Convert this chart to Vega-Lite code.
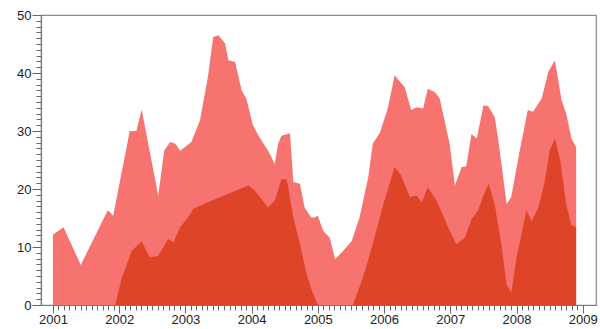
{
  "$schema": "https://vega.github.io/schema/vega-lite/v6.json",
  "width": 555,
  "height": 290,
  "autosize": {"type": "none"},
  "padding": {"left": 41, "top": 15, "right": 4, "bottom": 24},
  "background": "white",
  "config": {
    "view": {"stroke": "#8a8a8a", "strokeWidth": 1.2},
    "axis": {
      "labelFont": "Liberation Sans",
      "labelFontSize": 13,
      "labelColor": "#222222",
      "domainColor": "#777777",
      "domainWidth": 1.2,
      "tickColor": "#666666",
      "grid": false,
      "title": null
    }
  },
  "data": {
    "values": [
      {"year": 2001.00, "value": 12.1, "series": "light"},
      {"year": 2001.16, "value": 13.4, "series": "light"},
      {"year": 2001.42, "value": 6.9, "series": "light"},
      {"year": 2001.83, "value": 16.4, "series": "light"},
      {"year": 2001.91, "value": 15.4, "series": "light"},
      {"year": 2002.16, "value": 30.0, "series": "light"},
      {"year": 2002.26, "value": 30.0, "series": "light"},
      {"year": 2002.34, "value": 33.7, "series": "light"},
      {"year": 2002.59, "value": 18.9, "series": "light"},
      {"year": 2002.68, "value": 26.6, "series": "light"},
      {"year": 2002.77, "value": 28.1, "series": "light"},
      {"year": 2002.85, "value": 27.8, "series": "light"},
      {"year": 2002.92, "value": 26.6, "series": "light"},
      {"year": 2003.09, "value": 28.1, "series": "light"},
      {"year": 2003.22, "value": 31.8, "series": "light"},
      {"year": 2003.34, "value": 39.3, "series": "light"},
      {"year": 2003.42, "value": 46.2, "series": "light"},
      {"year": 2003.50, "value": 46.5, "series": "light"},
      {"year": 2003.60, "value": 45.1, "series": "light"},
      {"year": 2003.65, "value": 42.2, "series": "light"},
      {"year": 2003.75, "value": 41.9, "series": "light"},
      {"year": 2003.85, "value": 37.0, "series": "light"},
      {"year": 2003.92, "value": 35.6, "series": "light"},
      {"year": 2004.02, "value": 31.0, "series": "light"},
      {"year": 2004.12, "value": 28.9, "series": "light"},
      {"year": 2004.25, "value": 26.6, "series": "light"},
      {"year": 2004.35, "value": 24.3, "series": "light"},
      {"year": 2004.40, "value": 27.8, "series": "light"},
      {"year": 2004.45, "value": 29.2, "series": "light"},
      {"year": 2004.58, "value": 29.6, "series": "light"},
      {"year": 2004.63, "value": 21.2, "series": "light"},
      {"year": 2004.73, "value": 20.9, "series": "light"},
      {"year": 2004.80, "value": 16.8, "series": "light"},
      {"year": 2004.90, "value": 15.1, "series": "light"},
      {"year": 2004.95, "value": 15.1, "series": "light"},
      {"year": 2005.00, "value": 15.4, "series": "light"},
      {"year": 2005.08, "value": 12.8, "series": "light"},
      {"year": 2005.18, "value": 11.6, "series": "light"},
      {"year": 2005.26, "value": 7.9, "series": "light"},
      {"year": 2005.38, "value": 9.3, "series": "light"},
      {"year": 2005.51, "value": 11.0, "series": "light"},
      {"year": 2005.63, "value": 15.1, "series": "light"},
      {"year": 2005.76, "value": 22.0, "series": "light"},
      {"year": 2005.83, "value": 27.8, "series": "light"},
      {"year": 2005.94, "value": 29.8, "series": "light"},
      {"year": 2006.06, "value": 34.1, "series": "light"},
      {"year": 2006.16, "value": 39.6, "series": "light"},
      {"year": 2006.24, "value": 38.5, "series": "light"},
      {"year": 2006.31, "value": 37.6, "series": "light"},
      {"year": 2006.41, "value": 33.6, "series": "light"},
      {"year": 2006.49, "value": 34.1, "series": "light"},
      {"year": 2006.59, "value": 33.9, "series": "light"},
      {"year": 2006.66, "value": 37.3, "series": "light"},
      {"year": 2006.77, "value": 36.7, "series": "light"},
      {"year": 2006.84, "value": 35.6, "series": "light"},
      {"year": 2006.99, "value": 27.8, "series": "light"},
      {"year": 2007.07, "value": 20.6, "series": "light"},
      {"year": 2007.17, "value": 23.8, "series": "light"},
      {"year": 2007.24, "value": 23.9, "series": "light"},
      {"year": 2007.32, "value": 29.5, "series": "light"},
      {"year": 2007.40, "value": 28.7, "series": "light"},
      {"year": 2007.50, "value": 34.4, "series": "light"},
      {"year": 2007.57, "value": 34.3, "series": "light"},
      {"year": 2007.67, "value": 32.4, "series": "light"},
      {"year": 2007.72, "value": 28.9, "series": "light"},
      {"year": 2007.85, "value": 17.4, "series": "light"},
      {"year": 2007.92, "value": 18.6, "series": "light"},
      {"year": 2008.02, "value": 24.9, "series": "light"},
      {"year": 2008.17, "value": 33.6, "series": "light"},
      {"year": 2008.25, "value": 33.3, "series": "light"},
      {"year": 2008.38, "value": 35.6, "series": "light"},
      {"year": 2008.48, "value": 40.2, "series": "light"},
      {"year": 2008.58, "value": 42.2, "series": "light"},
      {"year": 2008.68, "value": 35.3, "series": "light"},
      {"year": 2008.75, "value": 33.0, "series": "light"},
      {"year": 2008.83, "value": 28.7, "series": "light"},
      {"year": 2008.90, "value": 27.2, "series": "light"},
      {"year": 2001.94, "value": 0.0, "series": "dark"},
      {"year": 2002.04, "value": 4.7, "series": "dark"},
      {"year": 2002.19, "value": 9.3, "series": "dark"},
      {"year": 2002.34, "value": 11.0, "series": "dark"},
      {"year": 2002.46, "value": 8.2, "series": "dark"},
      {"year": 2002.59, "value": 8.5, "series": "dark"},
      {"year": 2002.74, "value": 11.4, "series": "dark"},
      {"year": 2002.82, "value": 10.8, "series": "dark"},
      {"year": 2002.92, "value": 13.4, "series": "dark"},
      {"year": 2003.04, "value": 15.1, "series": "dark"},
      {"year": 2003.12, "value": 16.6, "series": "dark"},
      {"year": 2003.34, "value": 17.7, "series": "dark"},
      {"year": 2003.95, "value": 20.6, "series": "dark"},
      {"year": 2004.05, "value": 19.7, "series": "dark"},
      {"year": 2004.25, "value": 16.8, "series": "dark"},
      {"year": 2004.35, "value": 18.0, "series": "dark"},
      {"year": 2004.45, "value": 21.7, "series": "dark"},
      {"year": 2004.53, "value": 21.7, "series": "dark"},
      {"year": 2004.63, "value": 15.1, "series": "dark"},
      {"year": 2004.73, "value": 10.5, "series": "dark"},
      {"year": 2004.83, "value": 5.3, "series": "dark"},
      {"year": 2004.91, "value": 2.5, "series": "dark"},
      {"year": 2005.00, "value": 0.0, "series": "dark"},
      {"year": 2005.53, "value": 0.0, "series": "dark"},
      {"year": 2005.68, "value": 4.7, "series": "dark"},
      {"year": 2005.83, "value": 10.5, "series": "dark"},
      {"year": 2005.99, "value": 17.4, "series": "dark"},
      {"year": 2006.16, "value": 23.8, "series": "dark"},
      {"year": 2006.26, "value": 22.3, "series": "dark"},
      {"year": 2006.39, "value": 18.6, "series": "dark"},
      {"year": 2006.49, "value": 18.9, "series": "dark"},
      {"year": 2006.57, "value": 17.7, "series": "dark"},
      {"year": 2006.66, "value": 20.3, "series": "dark"},
      {"year": 2006.79, "value": 18.0, "series": "dark"},
      {"year": 2006.87, "value": 16.0, "series": "dark"},
      {"year": 2006.99, "value": 12.8, "series": "dark"},
      {"year": 2007.09, "value": 10.5, "series": "dark"},
      {"year": 2007.22, "value": 11.6, "series": "dark"},
      {"year": 2007.32, "value": 14.8, "series": "dark"},
      {"year": 2007.42, "value": 16.3, "series": "dark"},
      {"year": 2007.50, "value": 18.9, "series": "dark"},
      {"year": 2007.58, "value": 20.9, "series": "dark"},
      {"year": 2007.67, "value": 17.4, "series": "dark"},
      {"year": 2007.77, "value": 10.5, "series": "dark"},
      {"year": 2007.85, "value": 3.6, "series": "dark"},
      {"year": 2007.92, "value": 2.1, "series": "dark"},
      {"year": 2008.00, "value": 8.2, "series": "dark"},
      {"year": 2008.15, "value": 16.3, "series": "dark"},
      {"year": 2008.23, "value": 14.5, "series": "dark"},
      {"year": 2008.33, "value": 16.8, "series": "dark"},
      {"year": 2008.43, "value": 21.5, "series": "dark"},
      {"year": 2008.50, "value": 26.6, "series": "dark"},
      {"year": 2008.58, "value": 28.7, "series": "dark"},
      {"year": 2008.66, "value": 24.9, "series": "dark"},
      {"year": 2008.75, "value": 17.4, "series": "dark"},
      {"year": 2008.83, "value": 13.7, "series": "dark"},
      {"year": 2008.90, "value": 13.5, "series": "dark"}
    ]
  },
  "encoding": {
    "x": {
      "field": "year",
      "type": "quantitative",
      "scale": {"domain": [2000.82, 2009.2], "nice": false, "zero": false},
      "axis": {
        "values": [2001, 2001.0833, 2001.1667, 2001.25, 2001.3333, 2001.4167, 2001.5, 2001.5833, 2001.6667, 2001.75, 2001.8333, 2001.9167,
                   2002, 2002.0833, 2002.1667, 2002.25, 2002.3333, 2002.4167, 2002.5, 2002.5833, 2002.6667, 2002.75, 2002.8333, 2002.9167,
                   2003, 2003.0833, 2003.1667, 2003.25, 2003.3333, 2003.4167, 2003.5, 2003.5833, 2003.6667, 2003.75, 2003.8333, 2003.9167,
                   2004, 2004.0833, 2004.1667, 2004.25, 2004.3333, 2004.4167, 2004.5, 2004.5833, 2004.6667, 2004.75, 2004.8333, 2004.9167,
                   2005, 2005.0833, 2005.1667, 2005.25, 2005.3333, 2005.4167, 2005.5, 2005.5833, 2005.6667, 2005.75, 2005.8333, 2005.9167,
                   2006, 2006.0833, 2006.1667, 2006.25, 2006.3333, 2006.4167, 2006.5, 2006.5833, 2006.6667, 2006.75, 2006.8333, 2006.9167,
                   2007, 2007.0833, 2007.1667, 2007.25, 2007.3333, 2007.4167, 2007.5, 2007.5833, 2007.6667, 2007.75, 2007.8333, 2007.9167,
                   2008, 2008.0833, 2008.1667, 2008.25, 2008.3333, 2008.4167, 2008.5, 2008.5833, 2008.6667, 2008.75, 2008.8333, 2008.9167,
                   2009],
        "labelExpr": "abs(datum.value - round(datum.value)) < 0.001 ? format(datum.value, 'd') : ''",
        "labelOverlap": false,
        "labelFlush": false,
        "labelPadding": 0,
        "tickSize": {"condition": {"test": "abs(datum.value - round(datum.value)) < 0.001", "value": 8}, "value": 5},
        "tickWidth": 1
      }
    },
    "y": {
      "field": "value",
      "type": "quantitative",
      "scale": {"domain": [0, 50], "nice": false},
      "axis": {
        "values": [0,1,2,3,4,5,6,7,8,9,10,11,12,13,14,15,16,17,18,19,20,21,22,23,24,25,26,27,28,29,30,31,32,33,34,35,36,37,38,39,40,41,42,43,44,45,46,47,48,49,50],
        "labelExpr": "datum.value % 10 === 0 ? format(datum.value, 'd') : ''",
        "labelOverlap": false,
        "labelFlush": false,
        "labelPadding": 1,
        "tickSize": {"condition": {"test": "datum.value % 10 === 0", "value": 9}, "value": 5},
        "tickWidth": 1
      }
    }
  },
  "layer": [
    {
      "transform": [{"filter": "datum.series === 'light'"}],
      "mark": {"type": "area", "color": "#F6736F", "interpolate": "linear"}
    },
    {
      "transform": [{"filter": "datum.series === 'dark'"}],
      "mark": {"type": "area", "color": "#DE4528", "interpolate": "linear"}
    }
  ]
}
